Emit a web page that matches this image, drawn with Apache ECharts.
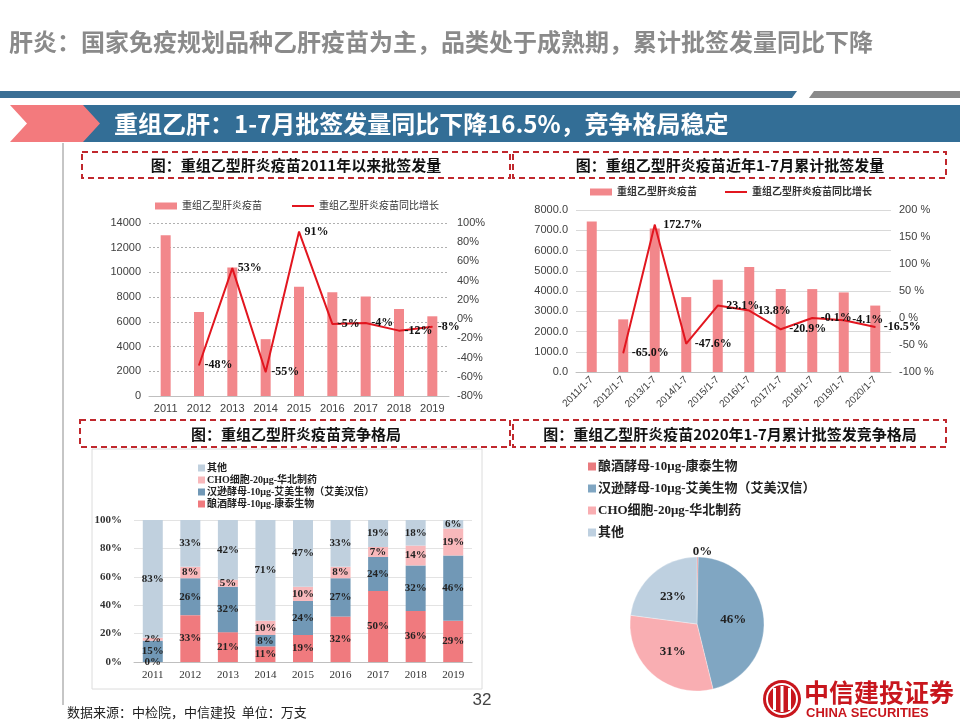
<!DOCTYPE html>
<html><head><meta charset="utf-8">
<script src="https://cdn.jsdelivr.net/npm/echarts@6/dist/echarts.min.js"></script>
<style>html,body{margin:0;padding:0;background:#fff}#c{width:960px;height:720px}</style>
</head><body><div id="c"></div>
<script>
// ---- data ----
const years1 = ['2011','2012','2013','2014','2015','2016','2017','2018','2019'];
const vol1 = [13000, 6800, 10400, 4600, 8850, 8400, 8050, 7050, 6450];
const growth1 = [null, -48, 53, -55, 91, -5, -4, -12, -8];

const periods2 = ['2011/1-7','2012/1-7','2013/1-7','2014/1-7','2015/1-7','2016/1-7','2017/1-7','2018/1-7','2019/1-7','2020/1-7'];
const vol2 = [7430, 2600, 7090, 3700, 4550, 5180, 4100, 4095, 3930, 3280];
const growth2 = [null, -65.0, 172.7, -47.6, 23.1, 13.8, -20.9, -0.1, -4.1, -16.5];

const years3 = ['2011','2012','2013','2014','2015','2016','2017','2018','2019'];
const shareKangtai = [0, 33, 21, 11, 19, 32, 50, 36, 29];
const shareAimei = [15, 26, 32, 8, 24, 27, 24, 32, 46];
const shareCHO = [2, 8, 5, 10, 10, 8, 7, 14, 19];
const shareOther = [83, 33, 42, 71, 47, 33, 19, 18, 6];

const pieNames = ['酿酒酵母-10μg-康泰生物', '汉逊酵母-10μg-艾美生物（艾美汉信）', 'CHO细胞-20μg-华北制药', '其他'];
const pieValues = [0.3, 46, 31, 23];

const nameBar = '重组乙型肝炎疫苗';
const nameLine = '重组乙型肝炎疫苗同比增长';

// ---- styles ----
const cBar = '#f2878b', cLine = '#e2161f';
const cKT = '#f07a7e', cAM = '#7198b6', cCHO = '#f8b8bb', cOT = '#c0d0de';
const pKT = '#e97b7f', pAM = '#80a6c2', pCHO = '#f9aeb2', pOT = '#bed0e0';
const SERIF = '"Liberation Serif","Noto Sans CJK SC",serif';
const SANS = '"Liberation Sans","Noto Sans CJK SC",sans-serif';
const CJK = '"Noto Sans CJK SC",sans-serif';
const axLab = {color:'#404040', fontSize:11, fontFamily:SANS};
const lineIcon = 'path://M0,0 L24,0 L24,2.2 L0,2.2 Z';

const chart = echarts.init(document.getElementById('c'));

function dashedBox(x,y,w,h){
  return {type:'rect', shape:{x:x,y:y,width:w,height:h}, style:{fill:'none', stroke:'#c0282d', lineWidth:2, lineDash:[6,4]}};
}
function boxTitle(x,y,t){
  return {type:'text', x:x, y:y, style:{text:t, font:'bold 15px '+CJK, fill:'#111', textAlign:'center', textVerticalAlign:'middle'}};
}

const option = {
  animation:false,
  backgroundColor:'#fff',
  legend:[
    {data:[{name:nameBar, icon:'rect', itemStyle:{color:cBar}}, {name:nameLine, icon:lineIcon, itemStyle:{color:cLine}}], left:150, top:196, itemWidth:22, itemHeight:7, itemGap:30,
     textStyle:{fontFamily:SERIF, fontSize:10, color:'#333'}},
    {data:[{name:nameBar, icon:'rect', itemStyle:{color:cBar}}, {name:nameLine, icon:lineIcon, itemStyle:{color:cLine}}], left:585, top:182, itemWidth:22, itemHeight:7, itemGap:28,
     textStyle:{fontFamily:SERIF, fontSize:10, fontWeight:'bold', color:'#333'}},
    {data:[{name:'其他', itemStyle:{color:cOT}}, {name:'CHO细胞-20μg-华北制药', itemStyle:{color:cCHO}}, {name:'汉逊酵母-10μg-艾美生物（艾美汉信）', itemStyle:{color:cAM}}, {name:'酿酒酵母-10μg-康泰生物', itemStyle:{color:cKT}}],
     orient:'vertical', left:193, top:458, itemWidth:7, itemHeight:7, itemGap:2, icon:'rect',
     textStyle:{fontFamily:SERIF, fontSize:10, fontWeight:'bold', color:'#222', padding:[0,0,0,-3]}},
    {data:pieNames.map((n,i)=>({name:n, itemStyle:{color:[pKT,pAM,pCHO,pOT][i]}})),
     orient:'vertical', left:583, top:455, itemWidth:8, itemHeight:8, itemGap:9, icon:'rect',
     textStyle:{fontFamily:SERIF, fontSize:13, fontWeight:'bold', color:'#222', padding:[0,0,0,-3]}}
  ],
  grid:[
    {left:149, right:511, top:223, bottom:324},
    {left:576, right:69, top:210, bottom:348},
    {left:134, right:488, top:520, bottom:58}
  ],
  xAxis:[
    {type:'category', gridIndex:0, data:years1, axisTick:{show:false}, axisLine:{lineStyle:{color:'#bfbfbf'}}, axisLabel:Object.assign({margin:7}, axLab)},
    {type:'category', gridIndex:1, data:periods2, axisTick:{show:false}, axisLine:{lineStyle:{color:'#bfbfbf'}}, axisLabel:Object.assign({rotate:45, margin:6, interval:0}, axLab, {fontSize:10})},
    {type:'category', gridIndex:2, data:years3, axisTick:{show:false}, axisLine:{lineStyle:{color:'#bfbfbf'}}, axisLabel:{margin:8, color:'#333', fontSize:11, fontFamily:SERIF}}
  ],
  yAxis:[
    {type:'value', gridIndex:0, min:0, max:14000, interval:2000, axisLabel:Object.assign({formatter:v=>String(v)}, axLab), axisLine:{show:false}, axisTick:{show:false},
     splitLine:{lineStyle:{color:'#b0b0b0', type:[2,2]}}},
    {type:'value', gridIndex:0, min:-80, max:100, interval:20, axisLabel:Object.assign({formatter:'{value}%'}, axLab), axisLine:{show:false}, axisTick:{show:false}, splitLine:{show:false}},
    {type:'value', gridIndex:1, min:0, max:8000, interval:1000, axisLabel:Object.assign({formatter:v=>v.toFixed(1)}, axLab), axisLine:{show:false}, axisTick:{show:false},
     splitLine:{lineStyle:{color:'#d9d9d9'}}},
    {type:'value', gridIndex:1, min:-100, max:200, interval:50, axisLabel:Object.assign({formatter:v=>v+' %'}, axLab), axisLine:{show:false}, axisTick:{show:false}, splitLine:{show:false}},
    {type:'value', gridIndex:2, min:0, max:100, interval:20, axisLabel:{formatter:'{value}%', color:'#333', fontSize:11, fontWeight:'bold', fontFamily:SERIF, margin:12}, axisLine:{show:false}, axisTick:{show:false},
     splitLine:{lineStyle:{color:'#e3e3e3'}}}
  ],
  series:[
    {name:nameBar, type:'bar', xAxisIndex:0, yAxisIndex:0, data:vol1, barWidth:10, itemStyle:{color:cBar}},
    {name:nameLine, type:'line', xAxisIndex:0, yAxisIndex:1, data:growth1, symbol:'circle', symbolSize:1, itemStyle:{color:cLine}, lineStyle:{color:cLine, width:2},
     label:{show:true, position:'right', distance:5, formatter:p=>p.value+'%', fontFamily:SERIF, fontWeight:'bold', fontSize:12, color:'#111'}},
    {name:nameBar, type:'bar', xAxisIndex:1, yAxisIndex:2, data:vol2, barWidth:10, itemStyle:{color:cBar}},
    {name:nameLine, type:'line', xAxisIndex:1, yAxisIndex:3, data:growth2, symbol:'circle', symbolSize:1, itemStyle:{color:cLine}, lineStyle:{color:cLine, width:2},
     label:{show:true, position:'right', distance:8, formatter:p=>p.value.toFixed(1)+'%', fontFamily:SERIF, fontWeight:'bold', fontSize:12, color:'#111'}},
    {name:'酿酒酵母-10μg-康泰生物', type:'bar', stack:'s', xAxisIndex:2, yAxisIndex:4, data:shareKangtai, barWidth:20, itemStyle:{color:cKT},
     label:{show:true, position:'inside', formatter:'{c}%', fontFamily:SERIF, fontWeight:'bold', fontSize:11, color:'#222'}},
    {name:'汉逊酵母-10μg-艾美生物（艾美汉信）', type:'bar', stack:'s', xAxisIndex:2, yAxisIndex:4, data:shareAimei, barWidth:20, itemStyle:{color:cAM},
     label:{show:true, position:'inside', formatter:'{c}%', fontFamily:SERIF, fontWeight:'bold', fontSize:11, color:'#222'}},
    {name:'CHO细胞-20μg-华北制药', type:'bar', stack:'s', xAxisIndex:2, yAxisIndex:4, data:shareCHO, barWidth:20, itemStyle:{color:cCHO},
     label:{show:true, position:'inside', formatter:'{c}%', fontFamily:SERIF, fontWeight:'bold', fontSize:11, color:'#222'}},
    {name:'其他', type:'bar', stack:'s', xAxisIndex:2, yAxisIndex:4, data:shareOther, barWidth:20, itemStyle:{color:cOT},
     label:{show:true, position:'inside', formatter:'{c}%', fontFamily:SERIF, fontWeight:'bold', fontSize:11, color:'#222'}},
    {name:'pie', type:'pie', center:[697,624], radius:67, startAngle:90, clockwise:true,
     itemStyle:{borderColor:'rgba(255,255,255,0.6)', borderWidth:0.5},
     label:{show:true, position:'inside', formatter:p=>Math.round(p.percent)+'%', fontFamily:SERIF, fontWeight:'bold', fontSize:13, color:'#222'},
     labelLine:{show:false},
     data:pieNames.map((n,i)=>{
       const d = {name:n, value:pieValues[i], itemStyle:{color:[pKT,pAM,pCHO,pOT][i]}};
       if(i===0){ d.label = {position:'outside', offset:[-10,-2]}; d.labelLine = {show:false, length:3, length2:0}; }
       return d;
     })}
  ],
  graphic:[
    {type:'text', x:9, y:42, style:{text:'肝炎：国家免疫规划品种乙肝疫苗为主，品类处于成熟期，累计批签发量同比下降', font:'bold 24px '+CJK, fill:'#8a8a8a', textVerticalAlign:'middle'}},
    {type:'polygon', shape:{points:[[0,91],[797,91],[792,98],[0,98]]}, style:{fill:'#3a6f95'}},
    {type:'polygon', shape:{points:[[814,91],[960,91],[960,98],[809,98]]}, style:{fill:'#8a8a8a'}},
    {type:'rect', shape:{x:80,y:105,width:880,height:37}, style:{fill:'#336e96'}},
    {type:'polygon', shape:{points:[[10,105],[83,105],[100,123.5],[83,142],[10,142],[27,123.5]]}, style:{fill:'#f37a7d'}},
    {type:'text', x:114, y:124, style:{text:'重组乙肝：1-7月批签发量同比下降16.5%，竞争格局稳定', font:'bold 24px '+CJK, fill:'#fff', textVerticalAlign:'middle'}},
    {type:'line', shape:{x1:63,y1:143,x2:63,y2:705}, style:{stroke:'#8c8c8c', lineWidth:1}},
    dashedBox(82,152,428,26), dashedBox(513,152,433,26), dashedBox(80,420,430,27), dashedBox(513,420,433,27),
    boxTitle(296,165,'图：重组乙型肝炎疫苗2011年以来批签发量'),
    boxTitle(730,165,'图：重组乙型肝炎疫苗近年1-7月累计批签发量'),
    boxTitle(296,434,'图：重组乙型肝炎疫苗竞争格局'),
    boxTitle(730,434,'图：重组乙型肝炎疫苗2020年1-7月累计批签发竞争格局'),
    {type:'rect', shape:{x:92,y:449,width:390,height:240}, style:{fill:'none', stroke:'#dcdcdc', lineWidth:1}, z:-1},
    {type:'text', x:67, y:712, style:{text:'数据来源：中检院，中信建投  单位：万支', font:'13px '+CJK, fill:'#222', textVerticalAlign:'middle'}},
    {type:'text', x:482, y:700, style:{text:'32', font:'17px '+SANS, fill:'#444', textAlign:'center', textVerticalAlign:'middle'}},
    {type:'circle', shape:{cx:782,cy:699,r:19}, style:{fill:'#c8161d'}},
    {type:'circle', shape:{cx:782,cy:699,r:15}, style:{fill:'none', stroke:'#fff', lineWidth:2}},
    {type:'rect', shape:{x:773,y:688,width:3,height:22}, style:{fill:'#fff'}},
    {type:'rect', shape:{x:780.5,y:686,width:3,height:26}, style:{fill:'#fff'}},
    {type:'rect', shape:{x:788,y:688,width:3,height:22}, style:{fill:'#fff'}},
    {type:'text', x:804, y:692, style:{text:'中信建投证券', font:'bold 25px '+CJK, fill:'#c8161d', textVerticalAlign:'middle'}},
    {type:'text', x:806, y:713, style:{text:'CHINA SECURITIES', font:'bold 13px '+SANS, fill:'#c8161d', textVerticalAlign:'middle'}}
  ]
};
chart.setOption(option);
</script></body></html>
